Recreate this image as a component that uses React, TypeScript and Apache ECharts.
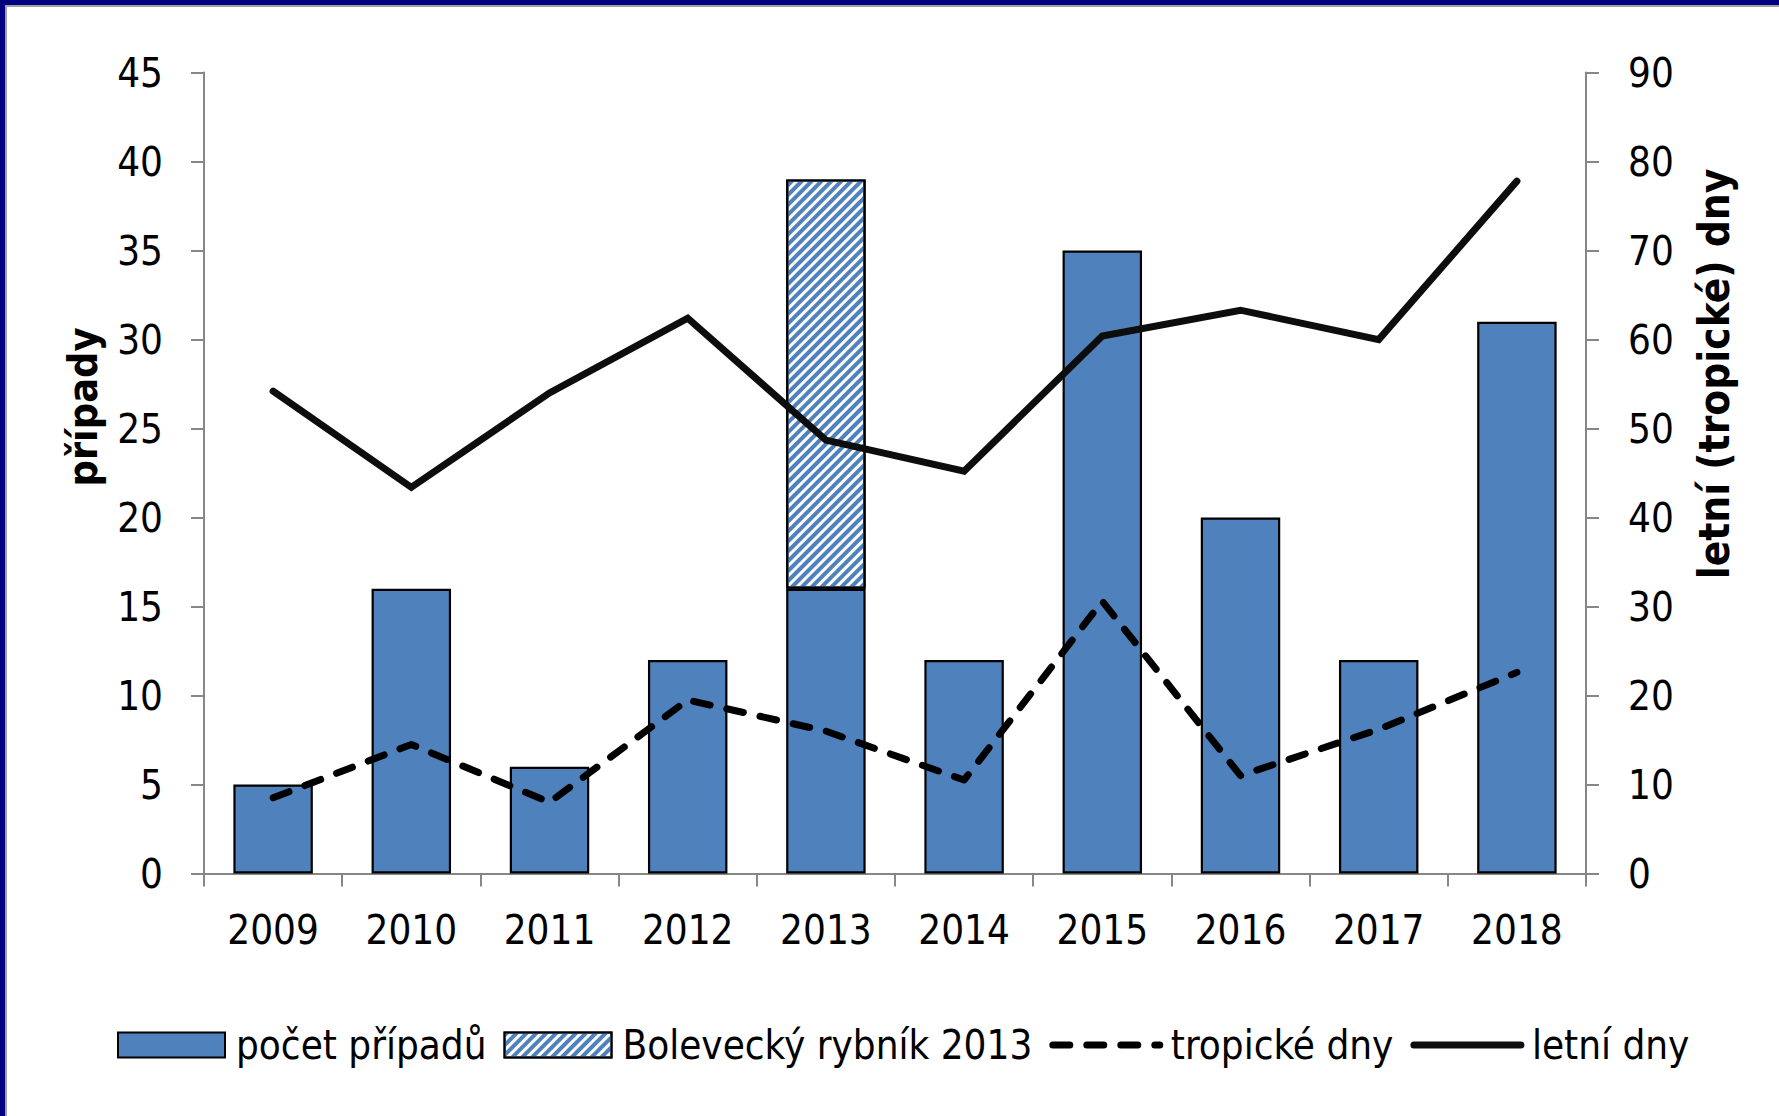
import React, { useEffect, useRef } from "react";
import * as echarts from "echarts";

const years = ["2009", "2010", "2011", "2012", "2013", "2014", "2015", "2016", "2017", "2018"];
const cases = [5, 16, 6, 12, 16, 12, 35, 20, 12, 31];
const bolevec = ["-", "-", "-", "-", 23, "-", "-", "-", "-", "-"];
const tropicalDays = [8.5, 14.5, 8, 19.5, 16, 10.5, 30.6, 11, 16.2, 22.6];
const summerDays = [54.2, 43.4, 54, 62.4, 48.7, 45.2, 60.4, 63.3, 60, 77.8];

const FONT = '"DejaVu Sans Condensed", "Noto Sans", sans-serif';
const BLUE = "#4F81BD";
const AXIS = "#878787";

export default function App() {
  const ref = useRef<HTMLDivElement>(null);
  useEffect(() => {
    if (!ref.current) return;
    const chart = echarts.init(ref.current, undefined, { renderer: "svg" });
    const tickLabel = { color: "#000", fontSize: 40, fontFamily: FONT };
    const hidden = { opacity: 0, color: "rgba(0,0,0,0)", borderWidth: 0 };
    chart.setOption({
      animation: false,
      backgroundColor: "#fff",
      textStyle: { fontFamily: FONT },
      grid: { left: 204, right: 193, top: 72.6, bottom: 242.5, containLabel: false },
      legend: {
        left: 112,
        top: 1020,
        itemWidth: 107,
        itemHeight: 25,
        itemGap: 17,
        textStyle: { color: "#000", fontSize: 40, fontFamily: FONT, padding: [0, 0, 0, 6] },
        data: [
          { name: "počet případů", icon: "rect" },
          { name: "Bolevecký rybník 2013", icon: "rect" },
          { name: "tropické dny", lineStyle: { width: 7 }, itemStyle: hidden },
          { name: "letní dny", lineStyle: { width: 7 }, itemStyle: hidden },
        ],
      },
      xAxis: {
        type: "category",
        data: years,
        boundaryGap: true,
        axisLine: { show: true, lineStyle: { color: AXIS, width: 2 } },
        axisTick: { show: true, inside: false, length: 13, interval: 0, lineStyle: { color: AXIS, width: 2 } },
        axisLabel: { ...tickLabel, margin: 36, lineHeight: 40, interval: 0 },
        splitLine: { show: false },
      },
      yAxis: [
        {
          type: "value",
          min: 0,
          max: 45,
          interval: 5,
          position: "left",
          axisLine: { show: true, lineStyle: { color: AXIS, width: 2 } },
          axisTick: { show: true, length: 13, lineStyle: { color: AXIS, width: 2 } },
          axisLabel: { ...tickLabel, margin: 41 },
          splitLine: { show: false },
        },
        {
          type: "value",
          min: 0,
          max: 90,
          interval: 10,
          position: "right",
          axisLine: { show: true, lineStyle: { color: AXIS, width: 2 } },
          axisTick: { show: true, length: 13, lineStyle: { color: AXIS, width: 2 } },
          axisLabel: { ...tickLabel, margin: 42 },
          splitLine: { show: false },
        },
      ],
      series: [
        {
          name: "počet případů",
          type: "bar",
          stack: "cases",
          data: cases,
          barCategoryGap: "42.5%",
          itemStyle: { color: BLUE, borderColor: "#000", borderWidth: 2.2 },
        },
        {
          name: "Bolevecký rybník 2013",
          type: "bar",
          stack: "cases",
          data: bolevec,
          barCategoryGap: "42.5%",
          itemStyle: {
            color: "#fff",
            borderColor: "#000",
            borderWidth: 2.2,
            decal: {
              symbol: "rect",
              symbolSize: 1,
              color: BLUE,
              dashArrayX: [1, 0],
              dashArrayY: [3.2, 2.8],
              rotation: -Math.PI / 4,
            },
          },
        },
        {
          name: "tropické dny",
          type: "line",
          yAxisIndex: 1,
          data: tropicalDays,
          showSymbol: false,
          symbol: "none",
          lineStyle: { color: "#000", width: 7, type: [17, 17], cap: "round", join: "round" },
          itemStyle: { color: "#000" },
        },
        {
          name: "letní dny",
          type: "line",
          yAxisIndex: 1,
          data: summerDays,
          showSymbol: false,
          symbol: "none",
          lineStyle: { color: "#0d0d0d", width: 7, cap: "round", join: "miter" },
          itemStyle: { color: "#0d0d0d" },
        },
      ],
      graphic: [
        { type: "rect", left: 0, top: 0, shape: { x: 0, y: 0, width: 1779, height: 5 }, style: { fill: "#000080" }, z: 100 },
        { type: "rect", left: 0, top: 0, shape: { x: 0, y: 0, width: 5, height: 1116 }, style: { fill: "#000080" }, z: 100 },
        { type: "rect", left: 5, top: 5, shape: { x: 0, y: 0, width: 1774, height: 2 }, style: { fill: "#a0a0a0" }, z: 100 },
        { type: "rect", left: 5, top: 5, shape: { x: 0, y: 0, width: 2, height: 1111 }, style: { fill: "#a0a0a0" }, z: 100 },
        {
          type: "text",
          x: 83,
          y: 407,
          rotation: Math.PI / 2,
          style: { text: "případy", font: `bold 41px ${FONT}`, fill: "#000", textAlign: "center", textVerticalAlign: "middle" },
        },
        {
          type: "text",
          x: 1714,
          y: 374,
          rotation: Math.PI / 2,
          style: { text: "letní (tropické) dny", font: `bold 42px ${FONT}`, fill: "#000", textAlign: "center", textVerticalAlign: "middle" },
        },
      ],
    });
    return () => chart.dispose();
  }, []);
  return <div ref={ref} style={{ position: "absolute", left: 0, top: 0, width: 1779, height: 1116 }} />;
}
